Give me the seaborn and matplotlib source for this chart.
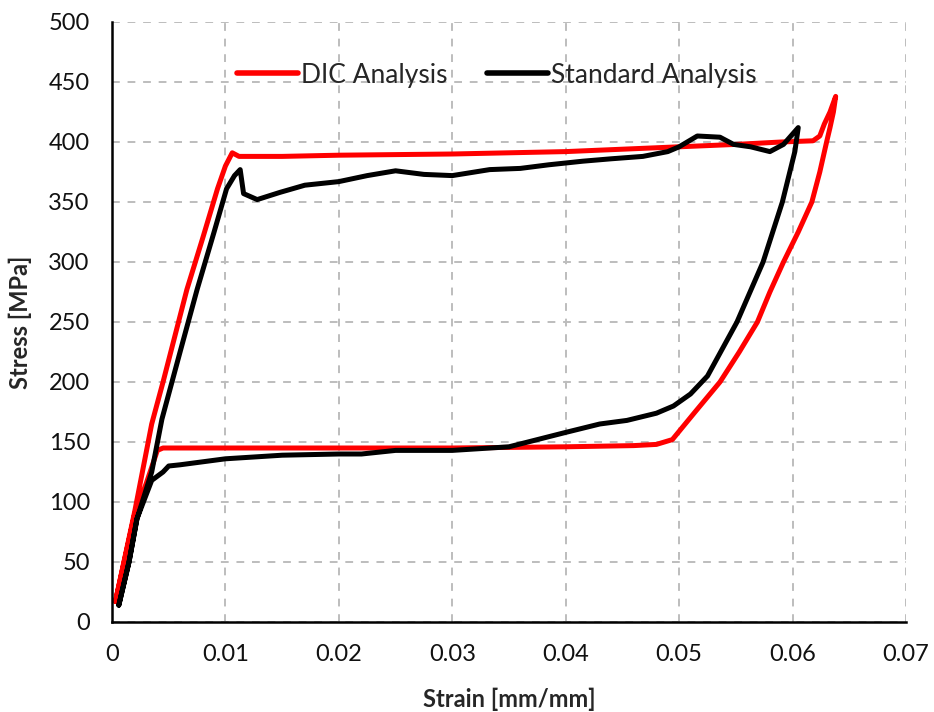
import matplotlib
matplotlib.use("Agg")
import matplotlib.pyplot as plt
import seaborn as sns
import pandas as pd
from matplotlib.lines import Line2D

# DIC Analysis loop (strain, stress)
dic_strain = [0.0003, 0.0020, 0.0035, 0.0045, 0.0066, 0.0080, 0.0093, 0.0100, 0.0106, 0.0112,
              0.015, 0.020, 0.030, 0.040, 0.045, 0.050, 0.055, 0.059, 0.0618, 0.0624, 0.0628,
              0.0633, 0.0638,
              0.0636, 0.0633, 0.0630, 0.0624, 0.0617, 0.0605, 0.0592, 0.0580, 0.0569, 0.0553,
              0.0536, 0.0514, 0.0494, 0.0480, 0.046, 0.040, 0.030, 0.020, 0.010, 0.0045,
              0.0040, 0.0030, 0.0020, 0.0003]
dic_stress = [17, 92, 165, 200, 277, 320, 361, 380, 391, 388,
              388, 389, 390, 392, 394, 396, 398, 400, 401, 405, 415,
              425, 438,
              425, 412, 400, 375, 350, 325, 300, 275, 250, 225,
              200, 175, 152, 148, 147, 146, 145, 145, 145, 145,
              143, 115, 90, 17]

# Standard Analysis loop (strain, stress)
std_strain = [0.0006, 0.0015, 0.0022, 0.0035, 0.0044, 0.0060, 0.0075, 0.0090, 0.0101, 0.0108,
              0.0113, 0.0116, 0.0128, 0.0148, 0.0170, 0.020, 0.0225, 0.025, 0.0275, 0.030,
              0.0333, 0.036, 0.0385, 0.0415, 0.0440, 0.0468, 0.0490, 0.0500, 0.0516, 0.0536,
              0.0548, 0.0563, 0.0580, 0.0592, 0.0605,
              0.0602, 0.0591, 0.0574, 0.0551, 0.0525, 0.0510, 0.0495, 0.048, 0.0454, 0.043,
              0.040, 0.0375, 0.035, 0.030, 0.025, 0.022, 0.020, 0.015, 0.010, 0.006, 0.0050,
              0.0045, 0.0035, 0.0022, 0.0015, 0.0006]
std_stress = [14, 50, 86, 125, 169, 225, 277, 325, 361, 372,
              377, 357, 352, 358, 364, 367, 372, 376, 373, 372,
              377, 378, 381, 384, 386, 388, 392, 396, 405, 404,
              398, 396, 392, 398, 412,
              392, 350, 300, 250, 205, 190, 180, 174, 168, 165,
              158, 152, 146, 143, 143, 140, 140, 139, 136, 131, 130,
              125, 118, 86, 50, 14]

series_names = ["DIC Analysis", "Standard Analysis"]
series_colors = ["#ff0000", "#000000"]
x_ticks = [0, 0.01, 0.02, 0.03, 0.04, 0.05, 0.06, 0.07]
y_ticks = [0, 50, 100, 150, 200, 250, 300, 350, 400, 450, 500]

df = pd.concat([
    pd.DataFrame({"Strain": dic_strain, "Stress": dic_stress, "Series": series_names[0]}),
    pd.DataFrame({"Strain": std_strain, "Stress": std_stress, "Series": series_names[1]}),
], ignore_index=True)

sns.set_style("white")
plt.rcParams["font.family"] = ["Lato", "DejaVu Sans"]

fig = plt.figure(figsize=(9.34, 7.12), dpi=100)
ax = fig.add_axes([112 / 934, 1 - 622 / 712, (906 - 112) / 934, (622 - 22) / 712])

sns.lineplot(data=df, x="Strain", y="Stress", hue="Series", hue_order=series_names,
             palette=series_colors, sort=False, estimator=None, units="Series",
             linewidth=3.6, ax=ax, legend=False, solid_capstyle="round", solid_joinstyle="round")

ax.set_xlim(0, 0.07)
ax.set_ylim(0, 500)
ax.set_xticks(x_ticks)
ax.set_xticklabels(["0" if t == 0 else f"{t:.2f}" for t in x_ticks])
ax.set_yticks(y_ticks)
ax.set_yticklabels([str(t) for t in y_ticks])
ax.tick_params(axis="both", length=0, labelsize=17, pad=16, colors="#111111")

ax.grid(True, color="#bdbdbd", linestyle=(0, (4, 4)), linewidth=1.4)
ax.set_axisbelow(True)
for s in ["top", "right"]:
    ax.spines[s].set_visible(False)
for s in ["left", "bottom"]:
    ax.spines[s].set_color("black")
    ax.spines[s].set_linewidth(1.8)

ax.set_xlabel("Strain [mm/mm]", fontsize=17, fontweight="bold", labelpad=16)
ax.set_ylabel("Stress [MPa]", fontsize=17, fontweight="bold", labelpad=12)

handles = [Line2D([], [], color=c, linewidth=4, solid_capstyle="round") for c in series_colors]
ax.legend(handles, series_names, loc="center",
          bbox_to_anchor=((497 - 112) / 794, 1 - (75 - 22) / 600),
          ncol=2, frameon=False, fontsize=19, handlelength=2.3, handletextpad=0.12,
          columnspacing=1.5)

fig.savefig("out.png", dpi=100)
